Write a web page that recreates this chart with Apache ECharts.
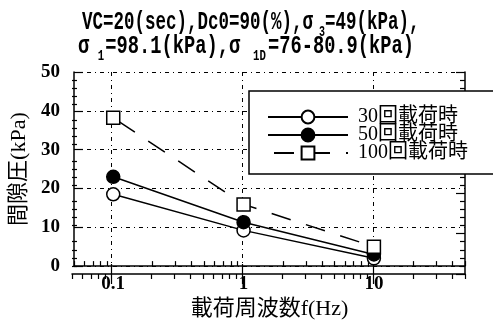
<!DOCTYPE html>
<html><head><meta charset="utf-8">
<script src="https://cdn.jsdelivr.net/npm/echarts@6/dist/echarts.min.js"></script>
<style>html,body{margin:0;padding:0;background:#fff}#c{width:493px;height:325px}</style>
</head><body><div id="c"></div>
<script>
// ---- data ----
const frequencies = [0.1, 1, 10];
const series30 = [18.5, 9.2, 2.0];
const series50 = [23.0, 11.3, 3.0];
const series100 = [38.2, 15.9, 5.0];
const seriesNames = ['30回載荷時', '50回載荷時', '100回載荷時'];
const xTickLabels = [0.1, 1, 10];
const xMinorTicks = [0.05,0.06,0.07,0.08,0.09,0.2,0.3,0.4,0.5,0.6,0.7,0.8,0.9,2,3,4,5,6,7,8,9,20,30,40,50];
const yTickLabels = [0, 10, 20, 30, 40, 50];
const yMinorTicks = [2,4,6,8,12,14,16,18,22,24,26,28,32,34,36,38,42,44,46,48];
const yMin = 0, yMax = 50, yStep = 10;
const xMin = 0.05, xMax = 50;
const xAxisName = '載荷周波数f(Hz)';
const yAxisName = '間隙圧(kPa)';

// ---- chart ----
const LAT = "'Liberation Serif','Noto Sans CJK JP',serif";
const MONO = "'Liberation Mono','Noto Sans CJK JP',monospace";
const black = '#000';
const gridDash = [4, 4, 1, 4];

const chart = echarts.init(document.getElementById('c'));

function pairs(vals) { return frequencies.map((f, i) => [f, vals[i]]); }
function axLine() { return {show: true, lineStyle: {color: black, width: 1.5}}; }
function tickStyle() { return {color: black, width: 1.2}; }
function logAxis(extra) { return Object.assign({type: 'log', logBase: 10, min: xMin, max: xMax}, extra); }
function valAxis(extra) { return Object.assign({type: 'value', min: yMin, max: yMax}, extra); }
const gridBox = {left: 72, right: 28, top: 72, bottom: 51};

const option = {
  animation: false,
  grid: [Object.assign({}, gridBox), Object.assign({}, gridBox), Object.assign({}, gridBox), Object.assign({}, gridBox)],
  xAxis: [
    logAxis({
      gridIndex: 0, position: 'bottom',
      axisLine: axLine(),
      axisTick: {show: true, inside: true, length: 5, customValues: xMinorTicks, lineStyle: tickStyle()},
      axisLabel: {show: true, customValues: xTickLabels, margin: 8, color: black,
        fontFamily: LAT, fontWeight: 'bold', fontSize: 19, formatter: v => String(v)},
      splitLine: {show: false},
      name: xAxisName, nameLocation: 'middle', nameGap: 27,
      nameTextStyle: {fontFamily: LAT, fontSize: 22, color: black}
    }),
    logAxis({
      gridIndex: 1, position: 'bottom',
      axisLine: {show: false},
      axisTick: {show: true, inside: true, length: 10, customValues: xTickLabels, lineStyle: tickStyle()},
      axisLabel: {show: false},
      splitLine: {show: true, lineStyle: {color: black, width: 1, type: gridDash}}
    }),
    logAxis({
      gridIndex: 2, position: 'top',
      axisLine: axLine(),
      axisTick: {show: true, inside: true, length: 5, customValues: xMinorTicks, lineStyle: tickStyle()},
      axisLabel: {show: false}, splitLine: {show: false}
    }),
    logAxis({
      gridIndex: 3, position: 'top',
      axisLine: {show: false},
      axisTick: {show: true, inside: true, length: 10, customValues: xTickLabels, lineStyle: tickStyle()},
      axisLabel: {show: false}, splitLine: {show: false}
    })
  ],
  yAxis: [
    valAxis({
      gridIndex: 0, position: 'left', interval: yStep,
      axisLine: axLine(),
      axisTick: {show: true, inside: true, length: 9, lineStyle: tickStyle()},
      axisLabel: {show: true, margin: 14, color: black, fontFamily: LAT, fontWeight: 'bold', fontSize: 19},
      splitLine: {show: true, lineStyle: {color: black, width: 1, type: gridDash}},
      name: yAxisName, nameLocation: 'middle', nameGap: 44,
      nameTextStyle: {fontFamily: LAT, fontSize: 22, color: black}
    }),
    valAxis({
      gridIndex: 1, position: 'left',
      axisLine: {show: false},
      axisTick: {show: true, inside: true, length: 5, customValues: yMinorTicks, lineStyle: tickStyle()},
      axisLabel: {show: false}, splitLine: {show: false}
    }),
    valAxis({
      gridIndex: 2, position: 'right', interval: yStep,
      axisLine: axLine(),
      axisTick: {show: true, inside: true, length: 9, lineStyle: tickStyle()},
      axisLabel: {show: false}, splitLine: {show: false}
    }),
    valAxis({
      gridIndex: 3, position: 'right',
      axisLine: {show: false},
      axisTick: {show: true, inside: true, length: 5, customValues: yMinorTicks, lineStyle: tickStyle()},
      axisLabel: {show: false}, splitLine: {show: false}
    })
  ],
  legend: {
    orient: 'vertical', left: 249, top: 91,
    itemWidth: 80, itemHeight: 16, itemGap: -2,
    padding: [16, 40, 11, 18],
    borderColor: black, borderWidth: 1.5, backgroundColor: '#fff', borderRadius: 0,
    textStyle: {fontFamily: LAT, fontSize: 20, color: black, padding: [0, 0, 0, 5]},
    data: seriesNames
  },
  graphic: [
    {
      type: 'text', x: 82, y: 22, scaleY: 1.5,
      style: {
        text: 'VC=20(sec),Dc0=90(%),σ{s| 3}=49(kPa),',
        fontFamily: MONO, fontWeight: 'bold', fontSize: 17.5, fill: black,
        lineHeight: 24, verticalAlign: 'middle',
        rich: {s: {fontFamily: MONO, fontWeight: 'bold', fontSize: 10, verticalAlign: 'bottom'}}
      }
    },
    {
      type: 'text', x: 78, y: 46, scaleY: 1.5, scaleX: 1.07,
      style: {
        text: 'σ{s|1}=98.1(kPa),σ{t|1D}=76-80.9(kPa)',
        fontFamily: MONO, fontWeight: 'bold', fontSize: 17.5, fill: black,
        lineHeight: 24, verticalAlign: 'middle',
        rich: {
          s: {fontFamily: MONO, fontWeight: 'bold', fontSize: 10, verticalAlign: 'bottom', padding: [0, 1, 0, 8]},
          t: {fontFamily: MONO, fontWeight: 'bold', fontSize: 10, verticalAlign: 'bottom', padding: [0, 2, 0, 12]}
        }
      }
    }
  ],
  series: [
    {
      name: seriesNames[0], type: 'line', xAxisIndex: 0, yAxisIndex: 0,
      data: pairs(series30), symbol: 'circle', symbolSize: 13,
      lineStyle: {color: black, width: 1.5},
      itemStyle: {color: '#fff', borderColor: black, borderWidth: 1.5}
    },
    {
      name: seriesNames[1], type: 'line', xAxisIndex: 0, yAxisIndex: 0,
      data: pairs(series50), symbol: 'circle', symbolSize: 13,
      lineStyle: {color: black, width: 1.5},
      itemStyle: {color: black, borderColor: black, borderWidth: 1.5}
    },
    {
      name: seriesNames[2], type: 'line', xAxisIndex: 0, yAxisIndex: 0,
      data: pairs(series100), symbol: 'rect', symbolSize: 13,
      lineStyle: {color: black, width: 1.5, type: [20, 16], dashOffset: -6},
      itemStyle: {color: '#fff', borderColor: black, borderWidth: 1.5}
    }
  ]
};
chart.setOption(option);
</script>
</body></html>
